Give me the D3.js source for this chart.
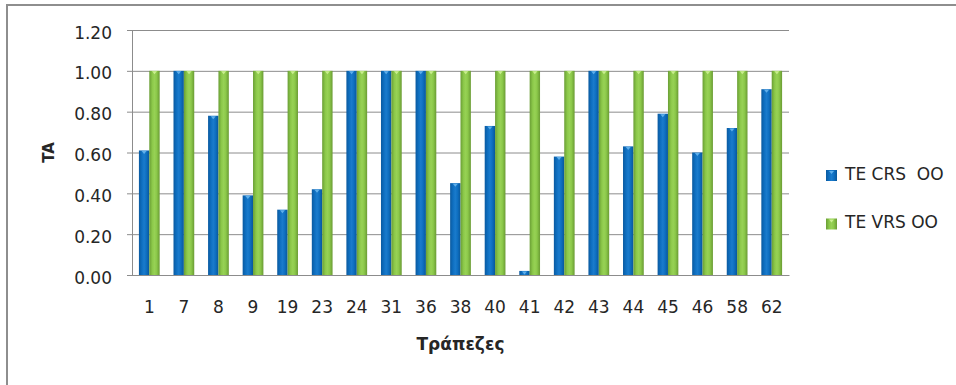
<!DOCTYPE html>
<html>
<head>
<meta charset="utf-8">
<script src="https://cdn.jsdelivr.net/npm/d3@7"></script>
<style>
  body { margin: 0; background: #fff; }
  svg { display: block; }
  text { font-family: "DejaVu Sans", sans-serif; fill: #262626; }
</style>
</head>
<body>
<svg id="chart" width="956" height="385"></svg>
<script>
// Bank identifiers (categories)
const banks = ["1","7","8","9","19","23","24","31","36","38","40","41","42","43","44","45","46","58","62"];
// Technical efficiency, constant returns to scale
const teCRS = [0.61,1.00,0.78,0.39,0.32,0.42,1.00,1.00,1.00,0.45,0.73,0.02,0.58,1.00,0.63,0.79,0.60,0.72,0.91];
// Technical efficiency, variable returns to scale
const teVRS = [1.00,1.00,1.00,1.00,1.00,1.00,1.00,1.00,1.00,1.00,1.00,1.00,1.00,1.00,1.00,1.00,1.00,1.00,1.00];
const seriesNames = ["TE CRS  OO", "TE VRS OO"];
const yTicks = [0, 0.2, 0.4, 0.6, 0.8, 1.0, 1.2];
const yTitle = "TA";
const xTitle = "Τράπεζες";

const svg = d3.select("#chart");
const W = 956, H = 385;
const plot = { left: 132, right: 789, top: 30, bottom: 275 };
const gridColor = "#8c8c8c";

// Chart frame (its right and bottom edges fall outside the view)
svg.append("rect")
  .attr("x", 7).attr("y", 5).attr("width", 1000).attr("height", 500)
  .attr("fill", "none").attr("stroke", "#8e8e8e").attr("stroke-width", 2);

// Gradients giving the bars their rounded look
const defs = svg.append("defs");
const palettes = [
  { id: "gBlue", stops: ["#0a5aa0", "#0f70c2", "#1a7bcc", "#0f70c2", "#08579b"], cap: "#6cb8f0" },
  { id: "gGreen", stops: ["#6a9e35", "#8cc94a", "#97d155", "#8cc94a", "#6a9b34"], cap: "#d2f39a" }
];
palettes.forEach(p => {
  const g = defs.append("linearGradient").attr("id", p.id)
    .attr("x1", 0).attr("x2", 1).attr("y1", 0).attr("y2", 0);
  [0, 0.3, 0.5, 0.7, 1].forEach((o, i) =>
    g.append("stop").attr("offset", o).attr("stop-color", p.stops[i]));
});

const x = d3.scaleBand()
  .domain(banks)
  .range([plot.left, plot.right])
  .paddingInner(0.4)
  .paddingOuter(0.2);
const xs = d3.scaleBand().domain([0, 1]).range([0, x.bandwidth()]);
const y = d3.scaleLinear().domain([0, 1.2]).range([plot.bottom, plot.top]);

// Horizontal gridlines
svg.append("g")
  .attr("transform", `translate(${plot.left},0)`)
  .call(d3.axisLeft(y).tickValues(yTicks).tickSize(-(plot.right - plot.left)).tickFormat(""))
  .call(g => g.select(".domain").remove())
  .call(g => g.selectAll("line").attr("stroke", gridColor).attr("stroke-width", 1));

// Y axis with ticks and labels
svg.append("g")
  .attr("transform", `translate(${plot.left},0)`)
  .call(d3.axisLeft(y).tickValues(yTicks).tickSize(5).tickPadding(15).tickFormat(d3.format(".2f")))
  .call(g => g.select(".domain").attr("stroke", gridColor))
  .call(g => g.selectAll("line").attr("stroke", gridColor))
  .call(g => g.selectAll("text")
    .attr("font-size", 17).attr("dy", "0.47em")
    .style("font-family", "'DejaVu Sans', sans-serif").attr("fill", "#262626"));

// Bars
const series = [teCRS, teVRS];
series.forEach((vals, si) => {
  const grp = svg.append("g");
  grp.selectAll("rect")
    .data(banks.map((b, i) => ({ b, v: vals[i] })))
    .join("rect")
    .attr("x", d => x(d.b) + xs(si))
    .attr("y", d => y(d.v))
    .attr("width", xs.bandwidth())
    .attr("height", d => y(0) - y(d.v))
    .attr("fill", `url(#${palettes[si].id})`);
  // small highlight at the top of each bar
  grp.selectAll("path")
    .data(banks.map((b, i) => ({ b, v: vals[i] })))
    .join("path")
    .attr("d", d => {
      const cx = x(d.b) + xs(si) + xs.bandwidth() / 2;
      const ty = y(d.v);
      return `M${cx - 2.5},${ty + 0.5}L${cx + 2.5},${ty + 0.5}L${cx},${ty + 3.5}Z`;
    })
    .attr("fill", palettes[si].cap)
    .attr("opacity", 0.85);
});

// X axis (baseline and category labels)
svg.append("g")
  .attr("transform", `translate(0,${plot.bottom})`)
  .call(d3.axisBottom(x).tickSize(0).tickPadding(26))
  .call(g => g.select(".domain").attr("stroke", gridColor))
  .call(g => g.selectAll("text")
    .attr("font-size", 17)
    .style("font-family", "'DejaVu Sans', sans-serif").attr("fill", "#262626"));

// Axis titles
svg.append("text")
  .attr("transform", `translate(54,${(plot.top + plot.bottom) / 2}) rotate(-90)`)
  .attr("text-anchor", "middle")
  .attr("font-size", 15).attr("font-weight", "bold")
  .text(yTitle);

svg.append("text")
  .attr("x", (plot.left + plot.right) / 2).attr("y", 350)
  .attr("text-anchor", "middle")
  .attr("font-size", 17).attr("font-weight", "bold")
  .text(xTitle);

// Legend
const legend = svg.append("g");
seriesNames.forEach((name, i) => {
  const ly = 170 + i * 48.5;
  legend.append("rect")
    .attr("x", 826).attr("y", ly).attr("width", 11).attr("height", 11)
    .attr("fill", `url(#${palettes[i].id})`);
  legend.append("path")
    .attr("d", `M${829},${ly + 1}L${834},${ly + 1}L${831.5},${ly + 4}Z`)
    .attr("fill", palettes[i].cap).attr("opacity", 0.85);
  legend.append("text")
    .attr("x", 845).attr("y", ly + 9.5)
    .attr("font-size", 17)
    .style("white-space", "pre")
    .text(name);
});
</script>
</body>
</html>
